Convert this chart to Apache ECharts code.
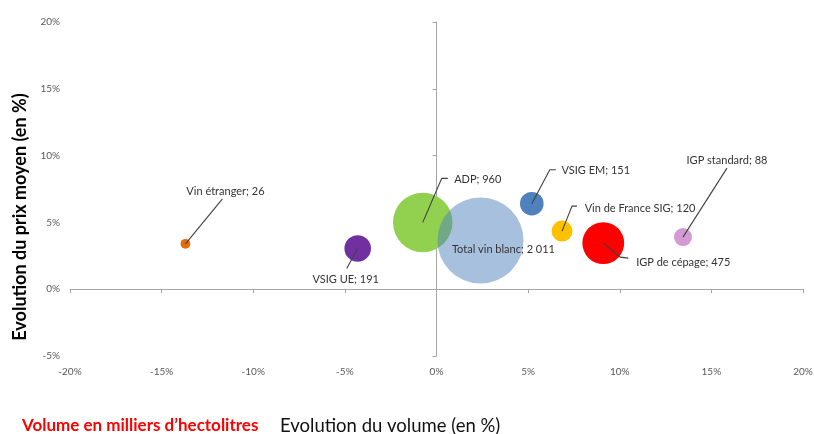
<!DOCTYPE html>
<html>
<head>
<meta charset="utf-8">
<script src="https://cdn.jsdelivr.net/npm/echarts@6/dist/echarts.min.js"></script>
<style>
html,body{margin:0;padding:0;background:#fff;}
#chart{width:814px;height:434px;}
</style>
</head>
<body>
<div id="chart"></div>
<script>
// ---- data ----
const names = ['Vin étranger', 'VSIG UE', 'ADP', 'Total vin blanc', 'VSIG EM', 'Vin de France SIG', 'IGP de cépage', 'IGP standard'];
const volumeEvol = [-13.7, -4.3, -0.75, 2.4, 5.2, 6.85, 9.1, 13.45];   // % x
const priceEvol = [3.4, 3.05, 5.0, 3.65, 6.4, 4.35, 3.45, 3.9];        // % y
const volumes = [26, 191, 960, 2011, 151, 120, 475, 88];               // milliers hl
const xTicks = [-20, -15, -10, -5, 0, 5, 10, 15, 20];
const yTicks = [-5, 0, 5, 10, 15, 20];

// ---- styles ----
const colors = ['#E46C0A', '#7030A0', '#92D050', 'rgba(79,129,189,0.5)', '#4F81BD', '#FFC000', '#FF0000', '#D49AD4'];
const labelOffsets = [[40, -52], [-12, 31], [55, -43], [23, 9], [64, -33], [78, -23], [80, 19], [44, -77]];
// leader line bends, in pixels from the bubble centre (null = no leader)
const leaderOffsets = [
  [[37, -45]],
  [[-11, 20]],
  [[19, -44], [25, -44]],
  null,
  [[18, -34], [24, -34]],
  [[10, -25], [15, -25]],
  [[17, 14], [25, 15]],
  [[44, -69]]
];
const FONT = 'Lato, "Open Sans", "Liberation Sans", sans-serif';

function fmt(v) {
  return String(v).replace(/\B(?=(\d{3})+(?!\d))/g, ' ');
}

const data = names.map((n, i) => ({
  name: n,
  value: [volumeEvol[i], priceEvol[i], volumes[i]],
  itemStyle: { color: colors[i], opacity: 1 }
}));

const titleGraphics = [
  {
    type: 'text', x: 20, y: 217, rotation: Math.PI / 2,
    style: { text: 'Evolution du prix moyen (en %)', fill: '#000', font: 'bold 18px ' + FONT, align: 'center', verticalAlign: 'middle' }
  },
  {
    type: 'text', x: 22, y: 426,
    style: { text: 'Volume en milliers d’hectolitres', fill: '#FF0000', font: 'bold 17px ' + FONT, align: 'left', verticalAlign: 'middle' }
  },
  {
    type: 'text', x: 280, y: 426,
    style: { text: 'Evolution du volume (en %)', fill: '#111', font: '18.5px ' + FONT, align: 'left', verticalAlign: 'middle' }
  }
];

const chart = echarts.init(document.getElementById('chart'));
chart.setOption({
  animation: false,
  backgroundColor: '#fff',
  grid: { left: 70, right: 11, top: 22, bottom: 78, containLabel: false, outerBoundsMode: 'none' },
  xAxis: [
    {
      type: 'value', min: xTicks[0], max: xTicks[xTicks.length - 1], interval: 5, position: 'bottom',
      axisLine: { show: false, onZero: false }, axisTick: { show: false }, splitLine: { show: false },
      axisLabel: { formatter: '{value}%', margin: 11, color: '#595959', fontSize: 10, fontFamily: FONT }
    },
    {
      type: 'value', min: xTicks[0], max: xTicks[xTicks.length - 1], interval: 5, position: 'bottom',
      axisLine: { show: true, onZero: true, lineStyle: { color: '#A6A6A6', width: 1 } },
      axisTick: { show: true, length: 4, lineStyle: { color: '#A6A6A6' } },
      axisLabel: { show: false }, splitLine: { show: false }
    }
  ],
  yAxis: [
    {
      type: 'value', min: yTicks[0], max: yTicks[yTicks.length - 1], interval: 5, position: 'left',
      axisLine: { show: false, onZero: false }, axisTick: { show: false }, splitLine: { show: false },
      axisLabel: { formatter: '{value}%', margin: 10, color: '#595959', fontSize: 10, fontFamily: FONT }
    },
    {
      type: 'value', min: yTicks[0], max: yTicks[yTicks.length - 1], interval: 5, position: 'left',
      axisLine: { show: true, onZero: true, lineStyle: { color: '#A6A6A6', width: 1 } },
      axisTick: { show: true, length: 4, lineStyle: { color: '#A6A6A6' } },
      axisLabel: { show: false }, splitLine: { show: false }
    }
  ],
  series: [
    {
      type: 'scatter',
      xAxisIndex: 0, yAxisIndex: 0,
      data: data,
      symbol: 'circle',
      symbolSize: (val) => 1.92 * Math.sqrt(val[2]),
      itemStyle: { opacity: 1 },
      label: {
        show: true, position: 'inside', color: '#333', fontSize: 11, fontFamily: FONT,
        formatter: (p) => p.name + '; ' + fmt(p.value[2])
      },
      labelLine: { show: false },
      labelLayout: (params) => {
        const o = labelOffsets[params.dataIndex];
        return {
          x: params.rect.x + params.rect.width / 2 + o[0],
          y: params.rect.y + params.rect.height / 2 + o[1],
          align: 'center', verticalAlign: 'middle'
        };
      },
      emphasis: { disabled: true },
      z: 2
    }
  ],
  graphic: titleGraphics
});

// leader lines, anchored on the bubble centres through the chart's own scales
const leaders = [];
names.forEach((n, i) => {
  const bends = leaderOffsets[i];
  if (!bends) return;
  const c = chart.convertToPixel({ xAxisIndex: 0, yAxisIndex: 0 }, [volumeEvol[i], priceEvol[i]]);
  const pts = [[c[0], c[1]]].concat(bends.map(b => [c[0] + b[0], c[1] + b[1]]));
  leaders.push({
    type: 'polyline', z: 100, silent: true,
    shape: { points: pts },
    style: { stroke: '#404040', lineWidth: 1.1, fill: null }
  });
});
chart.setOption({ graphic: { elements: titleGraphics.concat(leaders) } });
</script>
</body>
</html>
